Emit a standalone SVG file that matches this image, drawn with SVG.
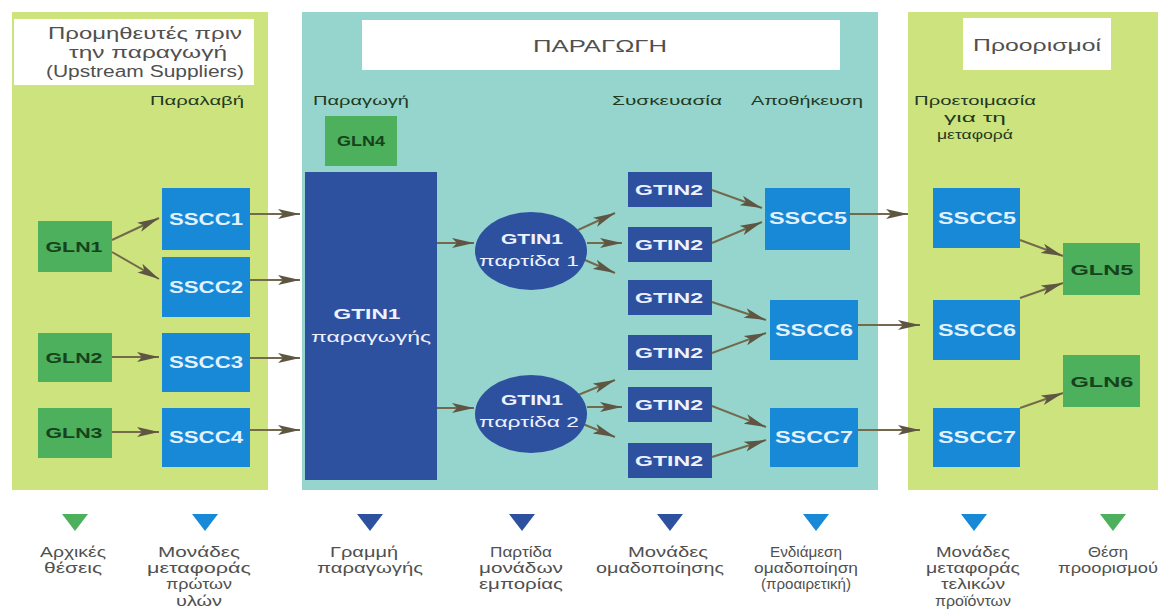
<svg xmlns="http://www.w3.org/2000/svg" width="1170" height="614" viewBox="0 0 1170 614">
  <defs>
    <marker id="arr" markerUnits="userSpaceOnUse" markerWidth="23" markerHeight="11" refX="22" refY="5.5" orient="auto">
      <path d="M0,0.5 L22,5.5 L0,10.5 L5,5.5 Z" fill="#5e5642"/>
    </marker>
    <style>
      text { font-family: "Liberation Sans", Arial, sans-serif; }
      .panel-g { fill: #cde37e; }
      .panel-t { fill: #95d5cd; }
      .title { fill: #ffffff; }
      .ttl { font-size: 16px; fill: #505050; text-anchor: middle; }
      .head { font-size: 17px; fill: #505050; text-anchor: middle; }
      .stage { font-size: 13px; fill: #1f3a22; text-anchor: middle; }
      .gln { fill: #4cb05c; }
      .gln-t { font-size: 15px; font-weight: bold; fill: #17421d; text-anchor: middle; }
      .sscc { fill: #1789d6; }
      .sscc-t { font-size: 17px; font-weight: bold; fill: #e4f2ff; text-anchor: middle; }
      .gtin { fill: #2e519f; }
      .gtin-t { font-size: 15px; font-weight: bold; fill: #eef2ff; text-anchor: middle; }
      .lot-t { font-size: 15px; fill: #eef2ff; text-anchor: middle; }
      .edge { stroke: #736a4c; stroke-width: 2; fill: none; marker-end: url(#arr); }
      .leg { font-size: 14px; fill: #505050; text-anchor: middle; }
    </style>
  </defs>

  <rect width="1170" height="614" fill="#ffffff"/>

  <!-- panels -->
  <g id="panel-suppliers">
    <rect class="panel-g" x="12" y="12" width="256" height="478"/>
    <rect class="title" x="14" y="19" width="240" height="66"/>
    <text class="ttl" x="145" y="39" textLength="194" lengthAdjust="spacingAndGlyphs">Προμηθευτές πριν</text>
    <text class="ttl" x="148" y="58" textLength="158" lengthAdjust="spacingAndGlyphs">την παραγωγή</text>
    <text class="ttl" x="145" y="77" textLength="198" lengthAdjust="spacingAndGlyphs">(Upstream Suppliers)</text>
    <text class="stage" x="197" y="105" textLength="94" lengthAdjust="spacingAndGlyphs">Παραλαβή</text>
  </g>
  <g id="panel-production">
    <rect class="panel-t" x="302" y="12" width="576" height="478"/>
    <rect class="title" x="362" y="20" width="478" height="50"/>
    <text class="head" x="600" y="52" textLength="134" lengthAdjust="spacingAndGlyphs">ΠΑΡΑΓΩΓΗ</text>
    <text class="stage" x="361" y="105" textLength="96" lengthAdjust="spacingAndGlyphs">Παραγωγή</text>
    <text class="stage" x="667" y="105" textLength="110" lengthAdjust="spacingAndGlyphs">Συσκευασία</text>
    <text class="stage" x="807" y="105" textLength="112" lengthAdjust="spacingAndGlyphs">Αποθήκευση</text>
  </g>
  <g id="panel-destinations">
    <rect class="panel-g" x="908" y="12" width="250" height="478"/>
    <rect class="title" x="963" y="18" width="148" height="52"/>
    <text class="head" x="1037" y="51" textLength="128" lengthAdjust="spacingAndGlyphs">Προορισμοί</text>
    <text class="stage" x="975" y="105" textLength="122" lengthAdjust="spacingAndGlyphs">Προετοιμασία</text>
    <text class="stage" x="975" y="122" textLength="62" lengthAdjust="spacingAndGlyphs">για τη</text>
    <text class="stage" x="975" y="139" textLength="76" lengthAdjust="spacingAndGlyphs">μεταφορά</text>
  </g>

  <!-- connectors -->
  <g id="connectors">
    <line class="edge" x1="112" y1="240" x2="159" y2="218"/>
    <line class="edge" x1="112" y1="252" x2="159" y2="279"/>
    <line class="edge" x1="112" y1="357" x2="159" y2="357"/>
    <line class="edge" x1="112" y1="432" x2="159" y2="432"/>
    <line class="edge" x1="250" y1="214" x2="300" y2="214"/>
    <line class="edge" x1="250" y1="280" x2="300" y2="280"/>
    <line class="edge" x1="250" y1="358" x2="300" y2="358"/>
    <line class="edge" x1="250" y1="430" x2="300" y2="430"/>
    <line class="edge" x1="437" y1="243" x2="474" y2="243"/>
    <line class="edge" x1="437" y1="408" x2="474" y2="408"/>
    <line class="edge" x1="578" y1="230" x2="615" y2="213"/>
    <line class="edge" x1="587" y1="243" x2="622" y2="243"/>
    <line class="edge" x1="578" y1="257" x2="615" y2="273"/>
    <line class="edge" x1="578" y1="395" x2="615" y2="380"/>
    <line class="edge" x1="587" y1="407" x2="622" y2="407"/>
    <line class="edge" x1="578" y1="422" x2="615" y2="437"/>
    <line class="edge" x1="712" y1="190" x2="762" y2="208"/>
    <line class="edge" x1="712" y1="243" x2="762" y2="222"/>
    <line class="edge" x1="712" y1="302" x2="766" y2="320"/>
    <line class="edge" x1="712" y1="353" x2="766" y2="333"/>
    <line class="edge" x1="712" y1="406" x2="766" y2="427"/>
    <line class="edge" x1="712" y1="457" x2="766" y2="440"/>
    <line class="edge" x1="850" y1="214" x2="908" y2="214"/>
    <line class="edge" x1="858" y1="325" x2="920" y2="325"/>
    <line class="edge" x1="858" y1="430" x2="920" y2="430"/>
    <line class="edge" x1="1020" y1="240" x2="1063" y2="256"/>
    <line class="edge" x1="1020" y1="298" x2="1063" y2="283"/>
    <line class="edge" x1="1020" y1="408" x2="1063" y2="393"/>
  </g>

  <!-- nodes -->
  <g id="gln1"><rect class="gln" x="38" y="221" width="74" height="51"/><text class="gln-t" x="74" y="252" textLength="57" lengthAdjust="spacingAndGlyphs">GLN1</text></g>
  <g id="gln2"><rect class="gln" x="38" y="333" width="74" height="49"/><text class="gln-t" x="74" y="363" textLength="57" lengthAdjust="spacingAndGlyphs">GLN2</text></g>
  <g id="gln3"><rect class="gln" x="38" y="408" width="74" height="50"/><text class="gln-t" x="74" y="438" textLength="57" lengthAdjust="spacingAndGlyphs">GLN3</text></g>

  <g id="sscc1"><rect class="sscc" x="162" y="188" width="88" height="62"/><text class="sscc-t" x="206" y="225" textLength="74" lengthAdjust="spacingAndGlyphs">SSCC1</text></g>
  <g id="sscc2"><rect class="sscc" x="162" y="257" width="88" height="60"/><text class="sscc-t" x="206" y="293" textLength="74" lengthAdjust="spacingAndGlyphs">SSCC2</text></g>
  <g id="sscc3"><rect class="sscc" x="162" y="333" width="88" height="59"/><text class="sscc-t" x="206" y="368" textLength="74" lengthAdjust="spacingAndGlyphs">SSCC3</text></g>
  <g id="sscc4"><rect class="sscc" x="162" y="408" width="88" height="59"/><text class="sscc-t" x="206" y="443" textLength="74" lengthAdjust="spacingAndGlyphs">SSCC4</text></g>

  <g id="gln4"><rect class="gln" x="325" y="116" width="72" height="50"/><text class="gln-t" x="361" y="146" textLength="48" lengthAdjust="spacingAndGlyphs">GLN4</text></g>

  <g id="gtin1-line"><rect class="gtin" x="305" y="172" width="132" height="308"/>
    <text class="gtin-t" x="367" y="319" textLength="67" lengthAdjust="spacingAndGlyphs">GTIN1</text>
    <text class="lot-t" x="371" y="342" textLength="120" lengthAdjust="spacingAndGlyphs">παραγωγής</text></g>

  <g id="gtin1-lot1"><ellipse class="gtin" cx="531" cy="251" rx="56" ry="39"/>
    <text class="gtin-t" x="532" y="244" textLength="62" lengthAdjust="spacingAndGlyphs">GTIN1</text>
    <text class="lot-t" x="529" y="266" textLength="100" lengthAdjust="spacingAndGlyphs">παρτίδα 1</text></g>
  <g id="gtin1-lot2"><ellipse class="gtin" cx="531" cy="414" rx="56" ry="39"/>
    <text class="gtin-t" x="532" y="405" textLength="62" lengthAdjust="spacingAndGlyphs">GTIN1</text>
    <text class="lot-t" x="529" y="427" textLength="100" lengthAdjust="spacingAndGlyphs">παρτίδα 2</text></g>

  <g id="gtin2-a"><rect class="gtin" x="628" y="172" width="84" height="35"/><text class="gtin-t" x="669" y="195" textLength="68" lengthAdjust="spacingAndGlyphs">GTIN2</text></g>
  <g id="gtin2-b"><rect class="gtin" x="628" y="227" width="84" height="35"/><text class="gtin-t" x="669" y="250" textLength="68" lengthAdjust="spacingAndGlyphs">GTIN2</text></g>
  <g id="gtin2-c"><rect class="gtin" x="628" y="280" width="84" height="35"/><text class="gtin-t" x="669" y="303" textLength="68" lengthAdjust="spacingAndGlyphs">GTIN2</text></g>
  <g id="gtin2-d"><rect class="gtin" x="628" y="335" width="84" height="35"/><text class="gtin-t" x="669" y="358" textLength="68" lengthAdjust="spacingAndGlyphs">GTIN2</text></g>
  <g id="gtin2-e"><rect class="gtin" x="628" y="387" width="84" height="35"/><text class="gtin-t" x="669" y="410" textLength="68" lengthAdjust="spacingAndGlyphs">GTIN2</text></g>
  <g id="gtin2-f"><rect class="gtin" x="628" y="443" width="84" height="35"/><text class="gtin-t" x="669" y="466" textLength="68" lengthAdjust="spacingAndGlyphs">GTIN2</text></g>

  <g id="sscc5-store"><rect class="sscc" x="765" y="188" width="85" height="62"/><text class="sscc-t" x="808" y="224" textLength="78" lengthAdjust="spacingAndGlyphs">SSCC5</text></g>
  <g id="sscc6-store"><rect class="sscc" x="770" y="300" width="88" height="60"/><text class="sscc-t" x="814" y="336" textLength="78" lengthAdjust="spacingAndGlyphs">SSCC6</text></g>
  <g id="sscc7-store"><rect class="sscc" x="770" y="408" width="88" height="59"/><text class="sscc-t" x="814" y="443" textLength="78" lengthAdjust="spacingAndGlyphs">SSCC7</text></g>

  <g id="sscc5-ship"><rect class="sscc" x="933" y="188" width="87" height="60"/><text class="sscc-t" x="977" y="224" textLength="78" lengthAdjust="spacingAndGlyphs">SSCC5</text></g>
  <g id="sscc6-ship"><rect class="sscc" x="933" y="300" width="87" height="60"/><text class="sscc-t" x="977" y="336" textLength="78" lengthAdjust="spacingAndGlyphs">SSCC6</text></g>
  <g id="sscc7-ship"><rect class="sscc" x="933" y="408" width="87" height="59"/><text class="sscc-t" x="977" y="443" textLength="78" lengthAdjust="spacingAndGlyphs">SSCC7</text></g>

  <g id="gln5"><rect class="gln" x="1063" y="243" width="77" height="52"/><text class="gln-t" x="1102" y="275" textLength="63" lengthAdjust="spacingAndGlyphs">GLN5</text></g>
  <g id="gln6"><rect class="gln" x="1063" y="355" width="77" height="52"/><text class="gln-t" x="1102" y="387" textLength="63" lengthAdjust="spacingAndGlyphs">GLN6</text></g>

  <!-- legend -->
  <g id="legend">
    <path d="M62,514 L88,514 L75,531 Z" fill="#4cb05c"/>
    <path d="M192,514 L218,514 L205,531 Z" fill="#1789d6"/>
    <path d="M357,514 L383,514 L370,531 Z" fill="#2e519f"/>
    <path d="M509,514 L535,514 L522,531 Z" fill="#2e519f"/>
    <path d="M657,514 L683,514 L670,531 Z" fill="#2e519f"/>
    <path d="M803,514 L829,514 L816,531 Z" fill="#1789d6"/>
    <path d="M961,514 L987,514 L974,531 Z" fill="#1789d6"/>
    <path d="M1100,514 L1126,514 L1113,531 Z" fill="#4cb05c"/>

    <text class="leg" x="73" y="557" textLength="66" lengthAdjust="spacingAndGlyphs">Αρχικές</text>
    <text class="leg" x="73" y="573" textLength="58" lengthAdjust="spacingAndGlyphs">θέσεις</text>
    <text class="leg" x="199" y="557" textLength="82" lengthAdjust="spacingAndGlyphs">Μονάδες</text>
    <text class="leg" x="199" y="573" textLength="104" lengthAdjust="spacingAndGlyphs">μεταφοράς</text>
    <text class="leg" x="199" y="589" textLength="66" lengthAdjust="spacingAndGlyphs">πρώτων</text>
    <text class="leg" x="199" y="606" textLength="46" lengthAdjust="spacingAndGlyphs">υλών</text>
    <text class="leg" x="364" y="557" textLength="68" lengthAdjust="spacingAndGlyphs">Γραμμή</text>
    <text class="leg" x="370" y="573" textLength="106" lengthAdjust="spacingAndGlyphs">παραγωγής</text>
    <text class="leg" x="521" y="557" textLength="62" lengthAdjust="spacingAndGlyphs">Παρτίδα</text>
    <text class="leg" x="521" y="573" textLength="84" lengthAdjust="spacingAndGlyphs">μονάδων</text>
    <text class="leg" x="521" y="589" textLength="84" lengthAdjust="spacingAndGlyphs">εμπορίας</text>
    <text class="leg" x="668" y="557" textLength="80" lengthAdjust="spacingAndGlyphs">Μονάδες</text>
    <text class="leg" x="660" y="573" textLength="128" lengthAdjust="spacingAndGlyphs">ομαδοποίησης</text>
    <text class="leg" x="806" y="557" textLength="72" lengthAdjust="spacingAndGlyphs">Ενδιάμεση</text>
    <text class="leg" x="806" y="573" textLength="104" lengthAdjust="spacingAndGlyphs">ομαδοποίηση</text>
    <text class="leg" x="806" y="589" textLength="90" lengthAdjust="spacingAndGlyphs">(προαιρετική)</text>
    <text class="leg" x="973" y="557" textLength="74" lengthAdjust="spacingAndGlyphs">Μονάδες</text>
    <text class="leg" x="973" y="573" textLength="94" lengthAdjust="spacingAndGlyphs">μεταφοράς</text>
    <text class="leg" x="973" y="589" textLength="64" lengthAdjust="spacingAndGlyphs">τελικών</text>
    <text class="leg" x="973" y="606" textLength="76" lengthAdjust="spacingAndGlyphs">προϊόντων</text>
    <text class="leg" x="1108" y="557" textLength="40" lengthAdjust="spacingAndGlyphs">Θέση</text>
    <text class="leg" x="1108" y="573" textLength="100" lengthAdjust="spacingAndGlyphs">προορισμού</text>
  </g>
</svg>
